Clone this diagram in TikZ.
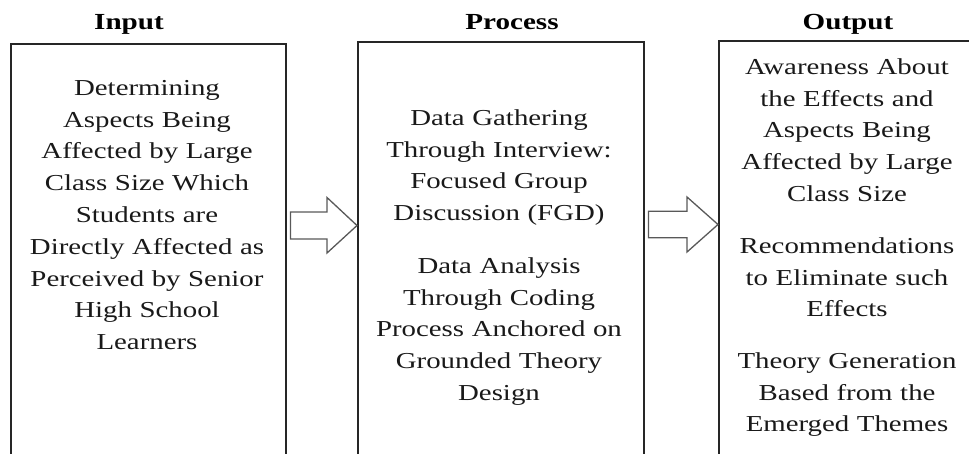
\documentclass[tikz,border=0pt]{standalone}
\usepackage{fontspec}
\setmainfont{Liberation Serif}[FakeStretch=1.265]
\usetikzlibrary{calc}
\newcommand\mystrut{\rule{0pt}{20pt}}
\begin{document}
\begin{tikzpicture}[x=1pt,y=-1pt,
  box/.style={draw=black!85, line width=1.5pt, inner sep=0pt, minimum height=480pt, anchor=north west},
  txt/.style={font=\fontsize{22.8}{31.8}\selectfont, align=center, text width=270pt, inner sep=0pt, anchor=north, text=black!90},
  ttl/.style={font=\fontsize{23}{28}\selectfont\bfseries, anchor=base, inner sep=0pt},
  blockarrow/.style={draw=black!65, line width=1.3pt, fill=white, line join=miter}]
\useasboundingbox (0,0) rectangle (969,453);
\clip (0,0) rectangle (969,453);
% titles
\node[ttl] (tin) at (129,29) {Input};
\node[ttl] (tproc) at (512,29) {Process};
\node[ttl] (tout) at (848,29) {Output};
% boxes
\node[box, minimum width=275pt] (inbox) at (10,43) {};
\node[box, minimum width=286pt] (midbox) at (357,41) {};
\node[box, minimum width=260pt] (outbox) at (718,40) {};
% texts
\node[txt] (intext) at (147,75) {\mystrut Determining\\Aspects Being\\Affected by Large\\Class Size Which\\Students are\\Directly Affected as\\Perceived by Senior\\High School\\Learners};
\node[txt] (midA) at (499,105) {\mystrut Data Gathering\\Through Interview:\\Focused Group\\Discussion (FGD)};
\node[txt] (midB) at (499,253) {\mystrut Data Analysis\\Through Coding\\Process Anchored on\\Grounded Theory\\Design};
\node[txt] (outA) at (847,54) {\mystrut Awareness About\\the Effects and\\Aspects Being\\Affected by Large\\Class Size};
\node[txt] (outB) at (847,233) {\mystrut Recommendations\\to Eliminate such\\Effects};
\node[txt] (outC) at (847,348) {\mystrut Theory Generation\\Based from the\\Emerged Themes};
% block arrows
\coordinate (yA) at (0,225.5);
\coordinate (tipA) at (midbox.west |- yA);
\coordinate (baseA) at ($(inbox.east |- yA)+(4,0)$);
\draw[blockarrow] (tipA) -- ($(tipA)+(-30,-28)$) -- ($(tipA)+(-30,-13.5)$) -- ($(baseA)+(0,-13.5)$) -- ($(baseA)+(0,13.5)$) -- ($(tipA)+(-30,13.5)$) -- ($(tipA)+(-30,27.5)$) -- cycle;
\coordinate (yB) at (0,224.5);
\coordinate (tipB) at (outbox.west |- yB);
\coordinate (baseB) at ($(midbox.east |- yB)+(4,0)$);
\draw[blockarrow] (tipB) -- ($(tipB)+(-31,-27.5)$) -- ($(tipB)+(-31,-13.3)$) -- ($(baseB)+(0,-13.3)$) -- ($(baseB)+(0,13.3)$) -- ($(tipB)+(-31,13.3)$) -- ($(tipB)+(-31,27.5)$) -- cycle;
\end{tikzpicture}
\end{document}
